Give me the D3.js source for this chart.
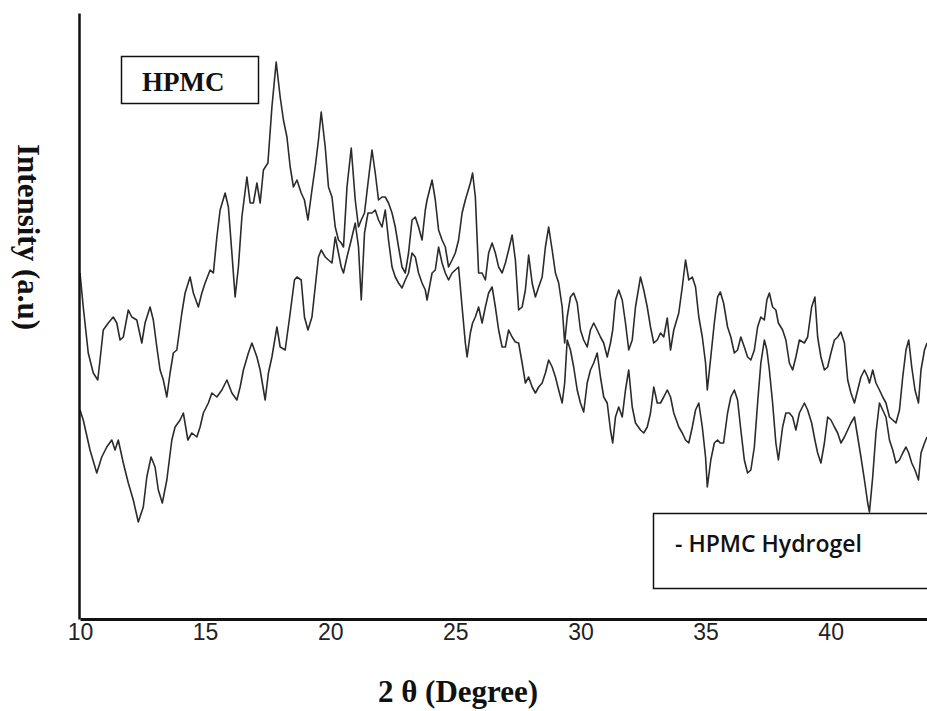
<!DOCTYPE html>
<html>
<head>
<meta charset="utf-8">
<script src="https://cdn.jsdelivr.net/npm/d3@7"></script>
<style>
  body { margin: 0; background: #fff; }
  svg { display: block; }
</style>
</head>
<body>
<svg id="chart" width="927" height="711"></svg>
<script>
// 2θ (degree) and intensity (a.u.)
const hpmc = [
  [10.00,346],[10.13,312],[10.33,266],[10.53,246],[10.71,239],[10.80,259],[10.93,289],[11.13,296],[11.33,302],[11.47,296],
  [11.60,279],[11.73,282],[11.93,309],[12.07,302],[12.27,299],[12.47,276],[12.60,296],[12.80,312],[12.93,299],[13.07,272],
  [13.20,249],[13.33,239],[13.47,222],[13.60,246],[13.73,266],[13.87,269],[14.07,306],[14.20,326],[14.40,342],[14.53,326],
  [14.73,312],[14.87,326],[15.00,336],[15.20,349],[15.33,346],[15.47,382],[15.60,409],[15.80,426],[15.93,412],[16.07,366],
  [16.20,322],[16.33,352],[16.47,402],[16.67,442],[16.80,416],[16.93,416],[17.07,436],[17.20,416],[17.33,449],[17.51,456],
  [17.67,512],[17.84,557],[18.00,522],[18.13,499],[18.27,482],[18.40,452],[18.53,432],[18.67,439],[18.84,426],[18.97,419],
  [19.11,399],[19.27,429],[19.40,452],[19.53,479],[19.64,507],[19.80,472],[19.93,432],[20.07,422],[20.20,392],[20.33,379],
  [20.44,376],[20.53,372],[20.67,432],[20.84,471],[21.00,419],[21.13,392],[21.24,399],[21.37,406],[21.51,436],[21.67,469],
  [21.80,446],[21.93,419],[22.07,422],[22.20,422],[22.33,416],[22.47,406],[22.60,392],[22.73,372],[22.87,352],[23.00,346],
  [23.13,366],[23.27,399],[23.40,402],[23.53,392],[23.67,379],[23.80,409],[23.87,419],[24.07,439],[24.20,419],[24.33,389],
  [24.47,379],[24.60,372],[24.73,352],[24.87,359],[25.00,366],[25.13,379],[25.27,406],[25.40,419],[25.60,436],[25.69,446],
  [25.80,422],[25.93,346],[26.07,346],[26.20,339],[26.33,366],[26.47,376],[26.60,366],[26.73,352],[26.87,346],[27.00,356],
  [27.13,369],[27.27,384],[27.40,359],[27.53,309],[27.67,312],[27.80,329],[27.93,364],[28.07,336],[28.20,322],[28.33,332],
  [28.47,342],[28.60,372],[28.73,392],[28.87,369],[29.00,346],[29.13,336],[29.27,312],[29.37,276],[29.47,302],[29.60,322],
  [29.73,326],[29.87,316],[30.00,289],[30.13,279],[30.27,272],[30.40,289],[30.53,296],[30.67,289],[30.80,282],[30.93,276],
  [31.07,262],[31.20,276],[31.29,289],[31.40,319],[31.53,329],[31.67,319],[31.80,296],[31.93,269],[32.07,279],[32.20,312],
  [32.40,342],[32.53,329],[32.67,312],[32.80,292],[32.93,276],[33.07,279],[33.20,286],[33.33,282],[33.47,301],[33.60,269],
  [33.73,289],[33.93,306],[34.07,332],[34.20,359],[34.33,339],[34.47,342],[34.60,332],[34.73,302],[34.87,282],[35.00,256],
  [35.07,229],[35.21,262],[35.35,296],[35.48,322],[35.59,327],[35.72,316],[35.88,292],[36.01,282],[36.15,266],[36.28,269],
  [36.41,282],[36.55,272],[36.68,262],[36.81,259],[36.95,269],[37.08,292],[37.21,302],[37.35,299],[37.45,319],[37.55,326],
  [37.68,312],[37.81,309],[37.91,296],[38.08,289],[38.21,279],[38.35,256],[38.48,249],[38.61,262],[38.75,279],[38.95,276],
  [39.08,282],[39.24,312],[39.37,322],[39.48,282],[39.61,262],[39.75,249],[39.88,252],[40.01,266],[40.15,279],[40.28,282],
  [40.41,287],[40.55,276],[40.68,239],[40.81,226],[40.95,216],[41.08,229],[41.21,242],[41.35,249],[41.48,242],[41.55,236],
  [41.68,249],[41.81,236],[41.95,229],[42.08,222],[42.21,216],[42.35,202],[42.48,199],[42.61,196],[42.75,209],[42.88,242],
  [43.01,269],[43.12,279],[43.24,252],[43.37,229],[43.51,216],[43.61,249],[43.75,269],[43.85,276]
];

const hydrogel = [
  [10.00,209],[10.13,199],[10.40,169],[10.67,146],[10.87,162],[11.07,172],[11.27,179],[11.40,169],[11.53,179],[11.73,156],
  [11.93,136],[12.13,119],[12.33,97],[12.53,112],[12.67,142],[12.84,162],[13.00,152],[13.13,129],[13.29,116],[13.47,139],
  [13.67,179],[13.80,192],[14.00,199],[14.13,206],[14.31,179],[14.47,186],[14.67,182],[14.80,192],[14.93,206],[15.13,216],
  [15.27,226],[15.47,222],[15.67,229],[15.87,239],[16.07,226],[16.27,219],[16.40,232],[16.53,249],[16.73,266],[16.87,276],
  [17.07,262],[17.20,249],[17.40,219],[17.53,246],[17.67,262],[17.87,292],[18.00,272],[18.20,269],[18.40,306],[18.57,339],
  [18.67,342],[18.84,339],[18.97,302],[19.11,289],[19.27,302],[19.40,332],[19.53,362],[19.64,369],[19.80,362],[19.93,359],
  [20.07,356],[20.20,382],[20.33,366],[20.44,352],[20.53,346],[20.67,362],[20.84,379],[21.00,396],[21.13,372],[21.24,319],
  [21.37,386],[21.51,406],[21.67,406],[21.80,409],[21.93,399],[22.07,392],[22.20,409],[22.33,379],[22.47,352],[22.60,342],
  [22.73,336],[22.87,331],[23.00,339],[23.13,346],[23.27,366],[23.40,362],[23.53,346],[23.67,336],[23.80,329],[23.87,319],
  [24.07,346],[24.20,349],[24.33,372],[24.47,356],[24.60,346],[24.73,339],[24.87,346],[25.00,349],[25.13,352],[25.27,312],
  [25.40,276],[25.47,262],[25.60,286],[25.69,296],[25.80,302],[25.93,312],[26.07,296],[26.20,312],[26.33,326],[26.47,332],
  [26.60,312],[26.73,289],[26.87,272],[27.00,272],[27.13,289],[27.27,282],[27.40,277],[27.53,276],[27.67,256],[27.80,236],
  [27.93,242],[28.07,232],[28.20,226],[28.33,232],[28.47,236],[28.60,246],[28.73,259],[28.87,252],[29.00,242],[29.13,229],
  [29.27,216],[29.37,236],[29.47,279],[29.60,269],[29.73,252],[29.87,229],[30.00,216],[30.13,207],[30.27,236],[30.40,249],
  [30.53,256],[30.67,266],[30.80,242],[30.93,222],[31.07,216],[31.20,189],[31.29,176],[31.40,202],[31.53,212],[31.67,202],
  [31.80,229],[31.93,249],[32.07,212],[32.20,196],[32.40,189],[32.53,186],[32.67,192],[32.80,206],[32.93,232],[33.07,216],
  [33.20,216],[33.33,222],[33.47,229],[33.60,222],[33.73,206],[33.93,192],[34.07,186],[34.20,179],[34.33,176],[34.47,192],
  [34.60,209],[34.73,216],[34.87,192],[35.00,162],[35.07,132],[35.21,159],[35.35,176],[35.48,179],[35.59,176],[35.72,176],
  [35.88,206],[36.01,222],[36.15,229],[36.28,219],[36.41,189],[36.55,159],[36.68,146],[36.81,149],[36.95,172],[37.08,216],
  [37.21,256],[37.35,279],[37.45,269],[37.55,249],[37.68,216],[37.81,176],[37.91,159],[38.08,192],[38.21,206],[38.35,206],
  [38.48,202],[38.61,189],[38.75,206],[38.95,216],[39.08,209],[39.24,196],[39.37,179],[39.48,166],[39.61,156],[39.75,176],
  [39.88,202],[40.01,199],[40.15,192],[40.28,186],[40.41,176],[40.55,182],[40.68,189],[40.81,196],[40.95,202],[41.08,182],
  [41.21,162],[41.35,139],[41.48,116],[41.55,107],[41.68,142],[41.81,186],[41.95,216],[42.08,209],[42.21,202],[42.35,179],
  [42.48,169],[42.61,156],[42.75,159],[42.88,166],[43.01,172],[43.12,166],[43.24,156],[43.37,149],[43.51,139],[43.61,166],
  [43.75,176],[43.85,182]
];

const xTicks = [10, 15, 20, 25, 30, 35, 40];
const xTitle = "2 θ (Degree)";
const yTitle = "Intensity (a.u)";
const topLabel = "HPMC";
const bottomLabel = "- HPMC Hydrogel";

const width = 927, height = 711;
const margin = { top: 13, left: 80, bottom: 92 };
const plotBottom = height - margin.bottom; // 619

const x = d3.scaleLinear().domain([10, 43.85]).range([margin.left, width]);
const y = d3.scaleLinear().domain([0, 606]).range([plotBottom, margin.top]);

const svg = d3.select("#chart");

const line = d3.line()
    .x(d => x(d[0]))
    .y(d => y(d[1]));

// spectra
[hpmc, hydrogel].forEach(series => {
    svg.append("path")
        .datum(series)
        .attr("d", line)
        .attr("fill", "none")
        .attr("stroke", "#2b2b2b")
        .attr("stroke-width", 1.6)
        .attr("stroke-linejoin", "round");
});

// x axis
const xAxis = svg.append("g")
    .attr("transform", `translate(0,${plotBottom})`)
    .call(d3.axisBottom(x).tickValues(xTicks).tickSize(0).tickSizeOuter(0).tickPadding(5));
xAxis.select(".domain").attr("stroke", "#111").attr("stroke-width", 3);
xAxis.selectAll("text")
    .attr("fill", "#222")
    .style("font-family", "'Liberation Sans Narrow', 'Liberation Sans', Arial, sans-serif")
    .style("font-size", "23px");

// y axis (no ticks)
const yAxis = svg.append("g")
    .attr("transform", `translate(${margin.left - 1},0)`)
    .call(d3.axisLeft(y).tickValues([]).tickSizeOuter(0));
yAxis.select(".domain").attr("stroke", "#111").attr("stroke-width", 2.5);

// axis titles
svg.append("text")
    .attr("x", 458)
    .attr("y", 702)
    .attr("text-anchor", "middle")
    .style("font-family", "'Liberation Serif', 'Times New Roman', serif")
    .style("font-weight", "bold")
    .style("font-size", "31px")
    .attr("fill", "#111")
    .text(xTitle);

svg.append("text")
    .attr("transform", "translate(18,237) rotate(90)")
    .attr("text-anchor", "middle")
    .style("font-family", "'Liberation Serif', 'Times New Roman', serif")
    .style("font-weight", "bold")
    .style("font-size", "31px")
    .attr("fill", "#111")
    .text(yTitle);

// label boxes
svg.append("rect")
    .attr("x", 121.5).attr("y", 56.5).attr("width", 137).attr("height", 47)
    .attr("fill", "#fff").attr("stroke", "#111").attr("stroke-width", 1.5);
svg.append("text")
    .attr("x", 142).attr("y", 91)
    .style("font-family", "'Liberation Serif', 'Times New Roman', serif")
    .style("font-weight", "bold")
    .style("font-size", "27px")
    .attr("fill", "#111")
    .text(topLabel);

svg.append("rect")
    .attr("x", 653.5).attr("y", 513.5).attr("width", 290).attr("height", 75)
    .attr("fill", "#fff").attr("stroke", "#111").attr("stroke-width", 1.5);
svg.append("text")
    .attr("x", 675).attr("y", 552)
    .style("font-family", "'Open Sans', sans-serif")
    .style("font-weight", 600)
    .style("font-size", "23px")
    .attr("fill", "#111")
    .text(bottomLabel);
</script>
</body>
</html>
